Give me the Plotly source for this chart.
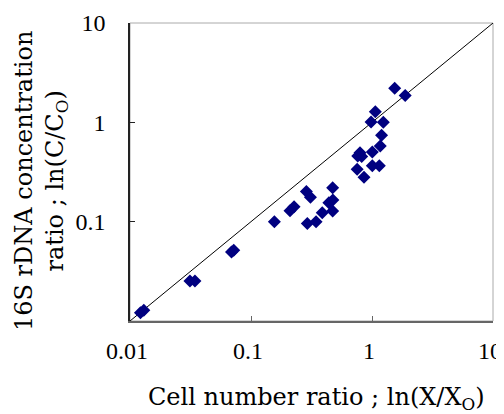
import math
import plotly.graph_objects as go

# Cell number ratio ; ln(X/Xo)
x_vals = [0.0122, 0.0130, 0.0313, 0.0344, 0.0690, 0.0720, 0.156, 0.210, 0.227,
          0.287, 0.310, 0.292, 0.345, 0.388, 0.440, 0.475, 0.473, 0.473,
          0.762, 0.796, 0.822, 0.754, 0.859, 1.006, 1.006, 1.15, 1.17, 1.20,
          0.982, 1.24, 1.065, 1.54, 1.88]
# 16S rDNA concentration ratio ; ln(C/Co)
y_vals = [0.0121, 0.0128, 0.0253, 0.0253, 0.0495, 0.0515, 0.100, 0.129, 0.141,
          0.201, 0.176, 0.096, 0.100, 0.123, 0.155, 0.165, 0.220, 0.128,
          0.459, 0.495, 0.452, 0.337, 0.280, 0.504, 0.366, 0.366, 0.578, 0.741,
          1.01, 1.00, 1.28, 2.20, 1.86]

ref_line = [0.01, 10]
x_ticks = [0.01, 0.1, 1, 10]
x_tick_text = ["0.01", "0.1", "1", "10"]
y_ticks = [0.1, 1, 10]
y_tick_text = ["0.1", "1", "10"]
x_title = "Cell number ratio ; ln(X/X<sub>O</sub>)"
y_title = "16S rDNA concentration<br>ratio ; ln(C/C<sub>O</sub>)"

FONT = "DejaVu Serif"
TICK_FONT = "Liberation Serif"

fig = go.Figure()
fig.add_trace(go.Scatter(x=ref_line, y=ref_line, mode="lines",
                         line=dict(color="black", width=1), hoverinfo="skip"))
fig.add_trace(go.Scatter(x=x_vals, y=y_vals, mode="markers",
                         marker=dict(symbol="diamond", size=10, color="#000080",
                                     line=dict(width=0))))

# top/right frame in light gray
fig.add_shape(type="rect", xref="paper", yref="paper", x0=0, y0=0, x1=1, y1=1,
              line=dict(color="#aaaaaa", width=1), layer="below")

# x tick labels at the axis tick positions (annotations on a log axis use log10 units)
for v, t in zip(x_ticks, x_tick_text):
    fig.add_annotation(x=math.log10(v), xref="x", y=0, yref="paper", text=t,
                       showarrow=False, xanchor="center", yanchor="middle",
                       xshift=-3, yshift=-30,
                       font=dict(family=TICK_FONT, size=24, color="black"))

# axis titles
fig.add_annotation(x=0.5, xref="paper", y=0, yref="paper", text=x_title,
                   showarrow=False, xanchor="center", yanchor="top",
                   xshift=5, yshift=-60,
                   font=dict(family=FONT, size=24, color="black"))
fig.add_annotation(x=0, xref="paper", y=0.5, yref="paper", text=y_title,
                   showarrow=False, textangle=-90, align="center",
                   xanchor="center", yanchor="middle", xshift=-89, yshift=-9,
                   font=dict(family=FONT, size=24, color="black"))

# page body has an 8px default margin, so the figure is 8px smaller than the window
fig.update_layout(
    width=496, height=406,
    margin=dict(l=122, r=11, t=15, b=93),
    plot_bgcolor="white", paper_bgcolor="white",
    showlegend=False,
    font=dict(family=FONT, size=21, color="black"),
)
fig.update_xaxes(type="log", range=[-2, 1], tickvals=x_ticks, showticklabels=False,
                 automargin=False,
                 showgrid=False, zeroline=False, showline=True, linecolor="#666666",
                 linewidth=1.5, ticks="inside", ticklen=5, tickcolor="#666666")
fig.update_yaxes(type="log", range=[-2, 1], tickvals=y_ticks, ticktext=y_tick_text,
                 automargin=False, ticklabeloverflow="allow",
                 showgrid=False, zeroline=False, showline=True, linecolor="#222222",
                 linewidth=1.5, ticks="inside", ticklen=5, tickcolor="#222222",
                 ticklabelstandoff=18, tickfont=dict(family=TICK_FONT, size=24))

fig.write_html("out.html")
